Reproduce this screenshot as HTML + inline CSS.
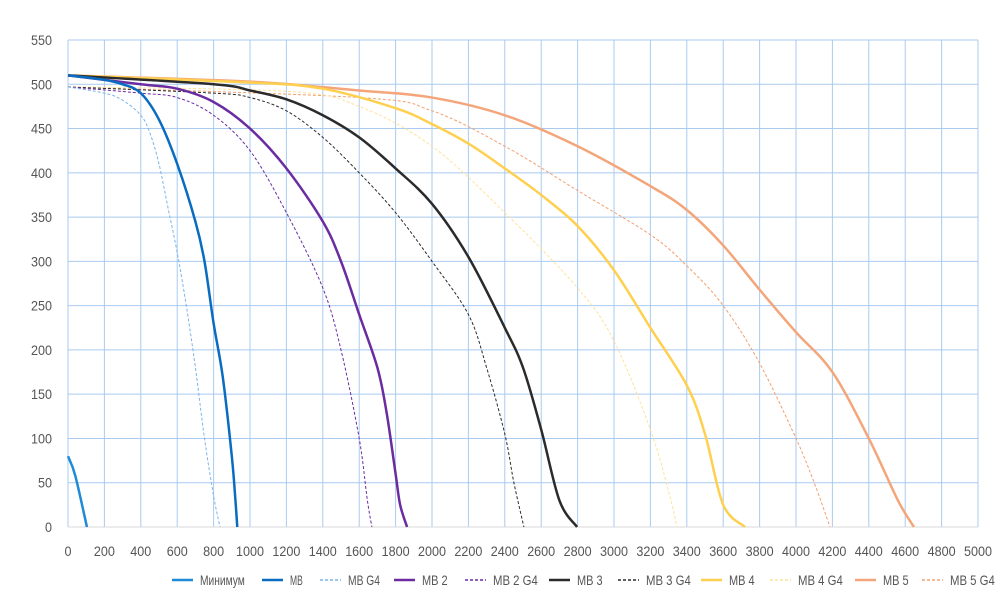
<!DOCTYPE html>
<html><head><meta charset="utf-8"><style>
body{margin:0;background:#fff;}
svg text{font-family:"Liberation Sans Narrow","Liberation Sans",sans-serif;fill:#555;font-size:14px;}
</style></head><body>
<svg width="1000" height="595" id="chart">
<g id="grid"></g>
<g id="xt"></g>
<g id="yt"></g>
<g id="series"></g>
<g id="legend"></g>
</svg>
<script>
const xTicks=[0,200,400,600,800,1000,1200,1400,1600,1800,2000,2200,2400,2600,2800,3000,3200,3400,3600,3800,4000,4200,4400,4600,4800,5000];
const yTicks=[0,50,100,150,200,250,300,350,400,450,500,550];
const seriesNames=["Минимум","МВ","МВ G4","МВ 2","МВ 2 G4","МВ 3","МВ 3 G4","МВ 4","МВ 4 G4","МВ 5","МВ 5 G4"];
const sMin=[[0,80],[40,58],[104,0]];
const sMV=[[0,510],[200,505],[300,500],[400,490],[500,460],[600,410],[700,345],[750,300],[800,230],[850,170],[900,80],[920,30],[930,0]];
const sMVG4=[[0,497],[200,490],[300,482],[400,465],[450,445],[500,410],[550,360],[600,310],[650,250],[700,180],[750,100],[800,35],[835,0]];
const sMV2=[[0,510],[400,500],[600,495],[800,480],[1000,450],[1200,405],[1400,345],[1500,300],[1600,240],[1700,180],[1750,130],[1800,60],[1825,25],[1863,0]];
const sMV2G4=[[0,497],[400,490],[600,485],[800,465],[1000,425],[1200,355],[1400,270],[1500,200],[1600,100],[1645,30],[1670,0]];
const sMV3=[[0,510],[800,500],[1000,493],[1200,483],[1400,465],[1600,440],[1800,405],[2000,365],[2200,305],[2400,225],[2500,180],[2600,110],[2700,30],[2797,0]];
const sMV3G4=[[0,497],[800,490],[1000,485],[1200,470],[1400,440],[1600,400],[1800,355],[2000,300],[2200,240],[2300,180],[2400,105],[2450,50],[2505,0]];
const sMV4=[[0,510],[1000,502],[1400,495],[1800,473],[2000,455],[2200,433],[2400,405],[2600,375],[2800,340],[3000,290],[3200,225],[3400,160],[3500,105],[3600,25],[3720,0]];
const sMV4G4=[[0,497],[1200,492],[1600,475],[2000,430],[2400,355],[2800,270],[3000,210],[3200,110],[3300,40],[3346,0]];
const sMV5=[[0,510],[1000,503],[1600,493],[2000,485],[2400,465],[2800,430],[3200,385],[3400,358],[3600,318],[3800,268],[4000,220],[4200,175],[4400,100],[4560,30],[4648,0]];
const sMV5G4=[[0,497],[1600,485],[2000,470],[2400,430],[2800,380],[3200,330],[3400,295],[3600,250],[3800,185],[4000,100],[4100,50],[4187,0]];
const seriesData=[sMin,sMV,sMVG4,sMV2,sMV2G4,sMV3,sMV3G4,sMV4,sMV4G4,sMV5,sMV5G4];
const styles=[["#1e8ad8",2.5,""],["#0a6cc0",2.5,""],["#7ab4e8",1,"3,2"],["#6a2ca0",2.5,""],["#6a2ca0",1,"3,2"],["#2b2b2b",2.5,""],["#2b2b2b",1,"3,2"],["#ffd04f",2.5,""],["#ffe29a",1,"3,2"],["#f4a57a",2.5,""],["#f2a070",1,"3,2"]];
const legX=[172,262,320,394,465,549,618,701,770,855,922];
const ns="http://www.w3.org/2000/svg";
const X0=68,X1=978,Y0=527,Y1=40;
const sx=v=>X0+(v/5000)*(X1-X0);
const sy=v=>Y0-(v/550)*(Y0-Y1);
function el(t,a,p){const e=document.createElementNS(ns,t);for(const k in a)e.setAttribute(k,a[k]);p.appendChild(e);return e;}
const grid=document.getElementById('grid'),xt=document.getElementById('xt'),yt=document.getElementById('yt');
xTicks.forEach(v=>{
 const l=el('line',{x1:sx(v),x2:sx(v),y1:Y1,y2:Y0,stroke:'#a9cbef','stroke-width':1},grid);
 
 
 const s=String(v);
 const t=el('text',{x:sx(v),y:556,'text-anchor':'middle',textLength:s.length*7,lengthAdjust:'spacingAndGlyphs'},xt);t.textContent=s;
 
 
});
yTicks.forEach(v=>{
 const l=el('line',{x1:X0,x2:X1,y1:sy(v),y2:sy(v),stroke:v==0?'#d8d8d8':'#a9cbef','stroke-width':1},grid);
 
 
 const s=String(v);
 const t=el('text',{x:52,y:sy(v)+5,'text-anchor':'end',textLength:s.length*7,lengthAdjust:'spacingAndGlyphs'},yt);t.textContent=s;
 
 
});
function path(pts){
 const P=pts.map(p=>[sx(p[0]),sy(p[1])]);
 let d='M'+P[0][0]+','+P[0][1];
 for(let i=0;i<P.length-1;i++){
  const p0=P[i-1]||P[i],p1=P[i],p2=P[i+1],p3=P[i+2]||P[i+1];
  const c1=[p1[0]+(p2[0]-p0[0])/6,p1[1]+(p2[1]-p0[1])/6],c2=[p2[0]-(p3[0]-p1[0])/6,p2[1]-(p3[1]-p1[1])/6];
  d+=`C${c1[0]},${c1[1]} ${c2[0]},${c2[1]} ${p2[0]},${p2[1]}`;
 }
 return d;
}
const sg=document.getElementById('series'),lg=document.getElementById('legend');
const order=[10,9,8,7,6,5,4,3,2,1,0];
order.forEach(i=>{
 const s=styles[i];
 const p=el('path',{d:path(seriesData[i]),fill:'none',stroke:s[0],'stroke-width':s[1],'stroke-dasharray':s[2],'stroke-linejoin':'round'},sg);
 
 
});
seriesNames.forEach((n,i)=>{
 const s=styles[i];
 const g=el('g',{},lg);
 
 
 el('line',{x1:legX[i],x2:legX[i]+21,y1:580,y2:580,stroke:s[0],'stroke-width':s[1]>1?2.5:1.5,'stroke-dasharray':s[2]},g);
 const t=el('text',{x:legX[i]+28,y:585,textLength:n.length*6.4,lengthAdjust:'spacingAndGlyphs'},g);t.textContent=n;
});
</script>
</body></html>
